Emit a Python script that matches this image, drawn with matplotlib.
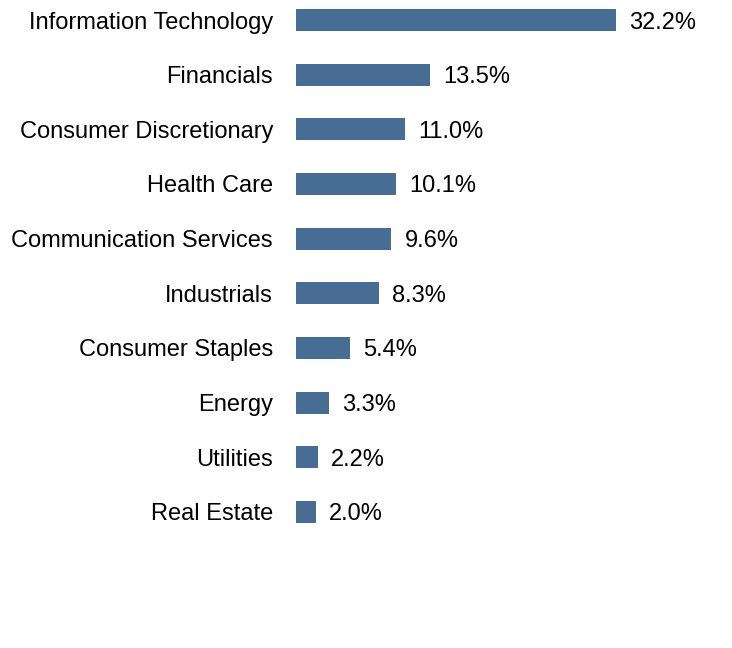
import matplotlib.pyplot as plt

plt.rcParams['font.family'] = ['Liberation Sans', 'DejaVu Sans']

# 섹터 비중 데이터
sectors = ['Information Technology', 'Financials', 'Consumer Discretionary', 'Health Care',
           'Communication Services', 'Industrials', 'Consumer Staples', 'Energy',
           'Utilities', 'Real Estate']
weights = [32.2, 13.5, 11.0, 10.1, 9.6, 8.3, 5.4, 3.3, 2.2, 2.0]

fig = plt.figure(figsize=(7.32, 6.48), dpi=100)
ax = fig.add_axes([296 / 732, 0, 400 / 732, 1])

pos = list(range(len(sectors)))
bars = ax.barh(pos, weights, height=0.4, color='#486d94')

ax.set_xlim(0, 400 / 9.94)
ax.set_ylim(11.49, -0.366)

# 라벨
for p, name in zip(pos, sectors):
    ax.annotate(name, (0, p), xytext=(-23, 0), textcoords='offset pixels',
                ha='right', va='center_baseline', fontsize=17, color='black')

# 각 바 옆에 숫자 표시
for bar in bars:
    w = bar.get_width()
    ax.annotate(f'{w:.1f}%', (w, bar.get_y() + bar.get_height() / 2), xytext=(13, 0),
                textcoords='offset pixels', ha='left', va='center_baseline', fontsize=17,
                color='black', annotation_clip=False)

ax.axis('off')
fig.savefig('out.png', dpi=100)
